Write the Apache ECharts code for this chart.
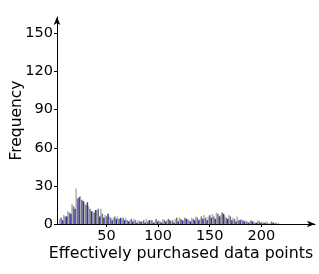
<!DOCTYPE html>
<html><head><meta charset="utf-8">
<script src="https://cdn.jsdelivr.net/npm/echarts@6/dist/echarts.min.js"></script>
<style>html,body{margin:0;padding:0;background:#fff}#c{width:319px;height:274px}</style>
</head><body><div id="c"></div>
<script>
const binCenters = [6,10,14,18,22,26,30,34,38,42,46,50,54,58,62,66,70,74,78,82,86,90,94,98,102,106,110,114,118,122,126,130,134,138,142,146,150,154,158,162,166,170,174,178,182,186,190,194,198,202,206,210,214,218];
const lightGray = [4,7,10,16,28,22,17,14,10,11,12,7,6,5,6,4,5,3,4,3,2,4,3,2,3,4,3,2,4,5,3,4,5,6,4,7,6,8,9,7,6,7,5,6,4,3,2,2,3,2,2,1,1,1];
const midGray   = [5,6,9,14,20,19,15,12,9,12,8,6,5,6,4,5,3,4,3,2,3,2,3,4,2,3,4,3,5,4,5,3,4,5,6,5,7,6,8,9,5,6,4,3,3,2,3,1,2,1,1,2,1,0];
const blue      = [3,6,8,12,21,18,17,10,11,6,5,8,3,4,5,3,2,2,1,2,1,3,1,2,1,2,3,1,2,3,4,2,3,3,4,3,5,4,6,8,4,3,2,3,2,1,2,1,1,1,0,1,0,0];
const yTicks = [0,30,60,90,120,150];
const xTicks = [50,100,150,200];

const font = 'DejaVu Sans';
function mk(name, arr, color){
  return {type:'bar', name, data: binCenters.map((x,i)=>[x,arr[i]]), barWidth:1.5, barGap:'0%',
    itemStyle:{color}, silent:true, animation:false};
}
const chart = echarts.init(document.getElementById('c'));
chart.setOption({
  animation:false,
  grid:{left:57,right:4,top:17,bottom:50,containLabel:false,outerBoundsMode:'none'},
  xAxis:{type:'value',min:2,max:252,
    name:'Effectively purchased data points',nameLocation:'middle',nameGap:22,nameMoveOverlap:false,
    nameTextStyle:{fontFamily:font,fontSize:15.8,color:'#000',padding:[0,10,0,0]},
    axisLine:{show:true,lineStyle:{color:'#000',width:1},symbol:['none','arrow'],symbolSize:[5,8]},
    axisTick:{show:true,length:3,lineStyle:{color:'#000'},customValues:xTicks},
    axisLabel:{fontFamily:font,fontSize:14.5,color:'#000',margin:5,customValues:xTicks},
    splitLine:{show:false}},
  yAxis:{type:'value',min:0,max:163,
    name:'Frequency',nameLocation:'middle',nameGap:32,nameRotate:90,nameMoveOverlap:false,
    nameTextStyle:{fontFamily:font,fontSize:15.5,color:'#000'},
    axisLine:{show:true,lineStyle:{color:'#000',width:1},symbol:['none','arrow'],symbolSize:[5,8]},
    axisTick:{show:true,length:3,lineStyle:{color:'#000'},customValues:yTicks},
    axisLabel:{fontFamily:font,fontSize:14.5,color:'#000',margin:4,customValues:yTicks},
    splitLine:{show:false}},
  series:[mk('A',lightGray,'#b0b0b0'), mk('B',midGray,'#737373'), mk('C',blue,'#3434a4')]
});
</script></body></html>
